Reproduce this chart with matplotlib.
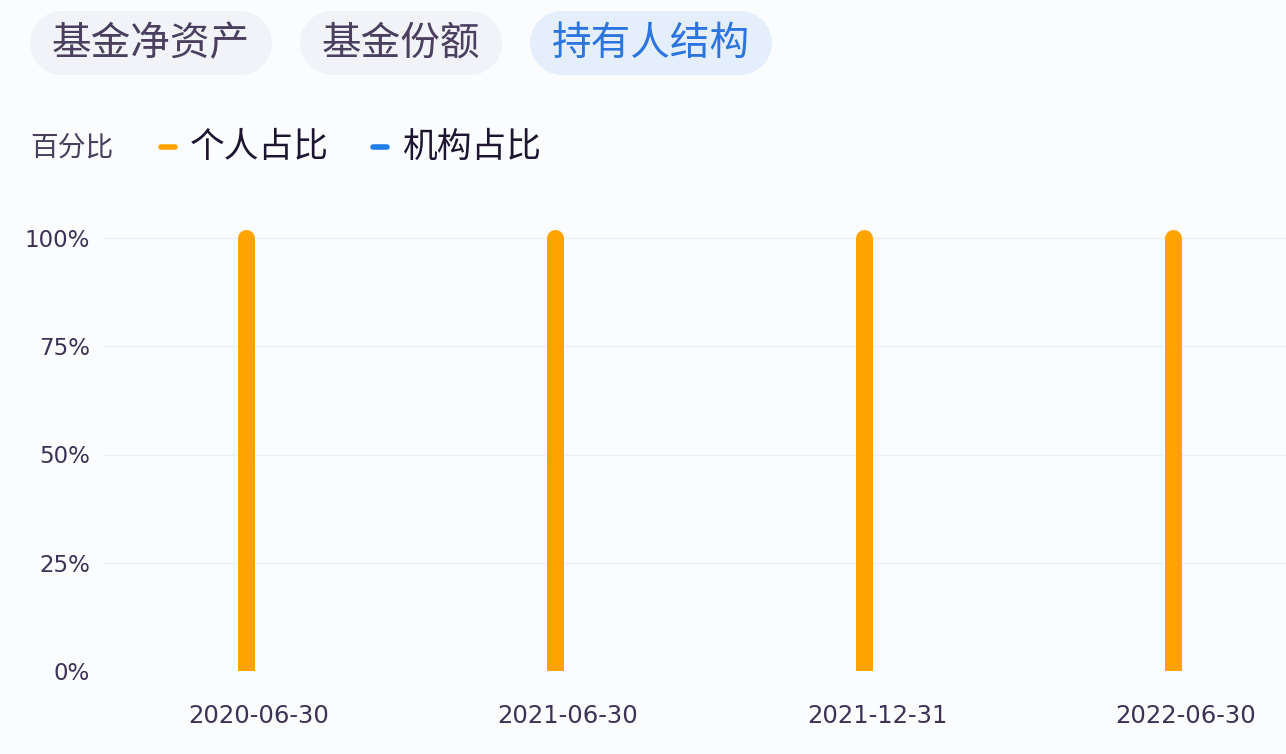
import numpy as np
import matplotlib
matplotlib.use("Agg")
import matplotlib.pyplot as plt

plt.rcParams['font.family'] = ['Noto Sans CJK SC', 'DejaVu Sans']

# 数据
dates = ['2020-06-30', '2021-06-30', '2021-12-31', '2022-06-30']
personal = [100, 100, 100, 100]
institution = [0, 0, 0, 0]
yticks = [0, 25, 50, 75, 100]
tabs = ['基金净资产', '基金份额', '持有人结构']
series_names = ['个人占比', '机构占比']

bg = '#fbfcfe'
orange = '#ffa300'
blue = '#1f7ee8'
txt = '#3d3156'

W, H = 1286, 754
fig = plt.figure(figsize=(W / 100, H / 100), dpi=100, facecolor=bg)

# 顶部标签页和图例 (像素坐标)
top = fig.add_axes([0, 0, 1, 1])
top.set_xlim(0, W)
top.set_ylim(H, 0)
top.axis('off')

tab_boxes = [(30, 272), (300, 502), (530, 772)]
pill_h = 64
for i, (name, (x0, x1)) in enumerate(zip(tabs, tab_boxes)):
    active = i == 2
    r = pill_h / 2
    # 胶囊形背景: 粗线 + 圆头
    top.plot([x0 + r, x1 - r], [43, 43], lw=pill_h * 72 / 100, solid_capstyle='round',
             color='#e5effc' if active else '#f2f3f8')
    top.text((x0 + x1) / 2, 44, name, ha='center', va='center',
             fontsize=28.5, color='#2c74e0' if active else '#4a3f5e')

top.text(30, 147, '百分比', ha='left', va='center', fontsize=20, color='#4a3f5e')
for name, col, xm in zip(series_names, [orange, blue], [161, 373]):
    top.plot([xm, xm + 14], [147, 147], color=col, lw=4, solid_capstyle='round')
    top.text(xm + 29, 147, name, ha='left', va='center', fontsize=25, color='#1e1530')

# 坐标轴
left_px, right_px = 104, 1286
top_px, bot_px = 220, 671
y100_px = 238
ax = fig.add_axes([left_px / W, 1 - bot_px / H, (right_px - left_px) / W, (bot_px - top_px) / H])
ax.set_facecolor('none')
step = 309.0
c0 = 259.0
ax.set_xlim((left_px - c0) / step, (right_px - c0) / step)
ax.set_ylim(0, 100 * (bot_px - top_px) / (bot_px - y100_px))

x = np.arange(len(dates))
off = 13 / step
lw_pt = 17 * 72 / 100
ax.vlines(x - off, 0, personal, colors=orange, linewidth=lw_pt, capstyle='round')
ax.vlines(x + off, 0, institution, colors=blue, linewidth=lw_pt, capstyle='round')

for yv in yticks:
    ax.axhline(yv, color='#eff0f5', lw=1, zorder=0)

ax.set_yticks(yticks)
ax.set_yticklabels([f'{v}%' for v in yticks], fontsize=16.5, color=txt, family=['DejaVu Sans'])
ax.set_xticks(x)
ax.set_xticklabels(dates, fontsize=17.5, color=txt, family=['DejaVu Sans'])
ax.tick_params(axis='both', length=0)
ax.tick_params(axis='y', pad=10)
ax.tick_params(axis='x', pad=24)
for s in ax.spines.values():
    s.set_visible(False)

fig.savefig('out.png', dpi=100, facecolor=bg)
